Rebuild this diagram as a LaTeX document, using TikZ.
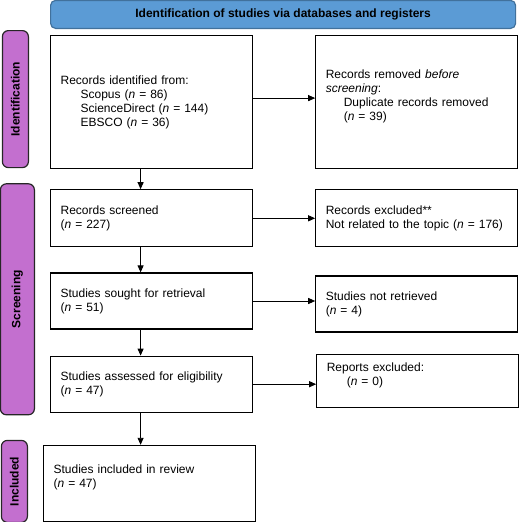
\documentclass[tikz,border=0pt]{standalone}
\usepackage{fontspec}
\setmainfont{Liberation Sans}
\usetikzlibrary{positioning, calc, arrows.meta}

\definecolor{headblue}{HTML}{5B9BD5}
\definecolor{headline}{HTML}{41719C}
\definecolor{phasepurple}{HTML}{C36FCF}

\begin{document}
\begin{tikzpicture}[
        x=1pt, y=-1pt,
        font=\fontsize{12}{14}\selectfont,
        box/.style={rectangle, draw, line width=1.2pt, align=left, inner xsep=10pt, text width=182pt, minimum height=#1},
        box/.default=56pt,
        header/.style={rectangle, rounded corners=5pt, draw=headline, fill=headblue, line width=1.2pt, minimum width=465pt, minimum height=28pt, font=\fontsize{12}{14}\selectfont\bfseries},
        phase/.style={rectangle, rounded corners=6pt, draw=black!85, line width=1.2pt, fill=phasepurple, minimum width=26pt, minimum height=#1},
        phaselabel/.style={rotate=90, font=\fontsize{12}{14}\selectfont\bfseries},
        arr/.style={-{Triangle[length=7pt,width=6pt]}, line width=0.9pt}
    ]
    \useasboundingbox (0,0) rectangle (520,522);

    % Left column
    \node[box=133pt, anchor=north west] (ident) at (50,35) {Records identified from:\\
        \hspace*{20pt}Scopus (\textit{n} = 86)\\
        \hspace*{20pt}ScienceDirect (\textit{n} = 144)\\
        \hspace*{20pt}EBSCO (\textit{n} = 36)};
    \node[box=57pt, below=20pt of ident] (screened) {Records screened\\(\textit{n} = 227)};
    \node[box, below=25pt of screened] (sought) {Studies sought for retrieval\\(\textit{n} = 51)};
    \node[box, below=26pt of sought] (assessed) {Studies assessed for eligibility\\(\textit{n} = 47)};
    \node[box=76pt, text width=192pt, below=32pt of assessed, xshift=-2pt] (included) {Studies included in review\\(\textit{n} = 47)\\ \mbox{}};

    % Right column
    \node[box=133pt, right=62pt of ident] (removed) {Records removed \textit{before}\\
        \textit{screening}:\\
        \hspace*{18pt}Duplicate records removed\\
        \hspace*{18pt}(\textit{n} = 39)\\ \mbox{}};
    \node[box=57pt, right=62pt of screened] (excluded) {Records excluded**\\Not related to the topic (\textit{n} = 176)};
    \node[box, right=62pt of sought, yshift=-3pt] (notretr) {Studies not retrieved\\(\textit{n} = 4)};
    \node[box=53pt, right=63pt of assessed, yshift=3pt] (reports) {Reports excluded:\\\hspace*{20pt}(\textit{n} = 0)\\ \mbox{}};

    % Header
    \node[header, above=6pt of ident.north west, anchor=south west] (title) {Identification of studies via databases and registers};

    % Phase bars
    \node[phase=137pt, left=21pt of ident.north west, anchor=north east, yshift=5pt] (idbar) {};
    \node[phaselabel] (idlab) at (idbar) {Identification};
    \node[phase=231pt, minimum width=34pt, left=15pt of screened.north west, anchor=north east, yshift=6pt] (scrbar) {};
    \node[phaselabel] (scrlab) at (scrbar) {Screening};
    \node[phase=82pt, left=15pt of included.north west, anchor=north east, yshift=5pt] (incbar) {};
    \node[phaselabel] (inclab) at (incbar) {Included};

    % Connections
    \foreach \a/\b in {ident/screened, screened/sought, sought/assessed, assessed/included}
        \draw[arr] ([xshift=-11pt]\a.south) -- ([xshift=-11pt]\a.south |- \b.north);

    \draw[arr] ([yshift=4pt]ident.east) -- ([yshift=4pt]ident.east -| removed.west);
    \foreach \a/\b in {screened/excluded, sought/notretr, assessed/reports}
        \draw[arr] (\a.east) -- (\a.east -| \b.west);

\end{tikzpicture}
\end{document}
